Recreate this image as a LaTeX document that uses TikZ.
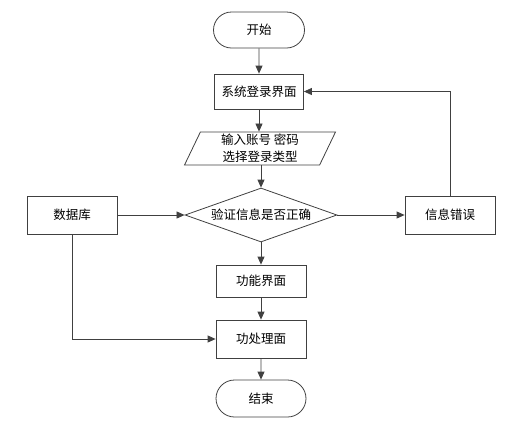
\documentclass[tikz,border=0pt]{standalone}
\usepackage{fontspec}
\newfontfamily\cjk{Noto Sans CJK SC}
\usetikzlibrary{shapes.geometric, shapes.misc, arrows.meta}
\tikzset{every picture/.style={line width=0.8pt}}
\tikzset{
  box/.style={draw=black!75, rectangle, minimum width=90pt, minimum height=36pt, inner sep=0pt, font=\cjk\fontsize{12.5}{16}\selectfont},
  term/.style={draw=black!75, rounded rectangle, minimum width=91pt, minimum height=36pt, inner sep=0pt, font=\cjk\fontsize{12.5}{16}\selectfont},
  io/.style={draw=black!75, trapezium, trapezium left angle=61, trapezium right angle=119, trapezium stretches body, minimum width=151pt, minimum height=33pt, inner sep=0pt, align=center, font=\cjk\fontsize{12.5}{17}\selectfont},
  test/.style={draw=black!75, diamond, aspect=2.8, minimum width=152pt, minimum height=54pt, inner sep=0pt, font=\cjk\fontsize{12.5}{16}\selectfont},
  line/.style={draw=black!75, -{Triangle[length=8pt,width=7pt]}}
}

\begin{document}
\begin{tikzpicture}[x=1pt, y=-1pt]
  \useasboundingbox (0,0) rectangle (520,424);
  \node[term] (start) at (259,30) {开始};
  \node[box, minimum width=89pt, minimum height=35pt] (login) at (259,91.5) {系统登录界面};
  \node[io] (input) at (260,148.5) {输入账号 密码\\选择登录类型};
  \node[test] (check) at (261,215) {验证信息是否正确};
  \node[box, minimum height=38pt] (db) at (72,215) {数据库};
  \node[box, minimum height=38pt] (err) at (450,215) {信息错误};
  \node[box, minimum height=32pt] (func) at (261,281) {功能界面};
  \node[box, minimum height=38pt] (proc) at (261,339) {功处理面};
  \node[term, minimum width=90pt, minimum height=37pt] (end) at (261,398.5) {结束};

  \draw[line] (start) -- (login);
  \draw[line] (login) -- (login |- input.north);
  \draw[line] (input.south -| check.north) -- (check);
  \draw[line] (db) -- (check);
  \draw[line] (check) -- (err);
  \draw[line] (err) |- (login);
  \draw[line] (check) -- (func);
  \draw[line] (func) -- (proc);
  \draw[line] (db) |- (proc);
  \draw[line] (proc) -- (end);
\end{tikzpicture}
\end{document}
